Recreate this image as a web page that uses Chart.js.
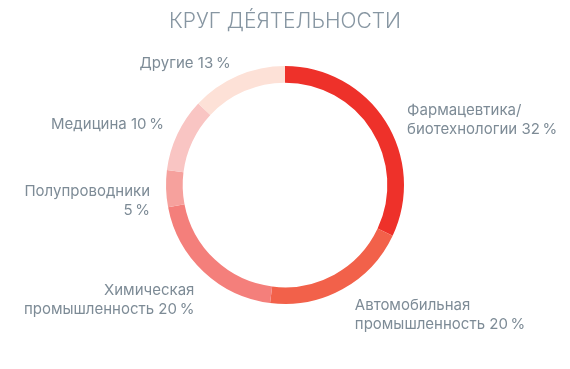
<!DOCTYPE html>
<html>
<head>
<meta charset="utf-8">
<script src="https://cdn.jsdelivr.net/npm/chart.js@4.4.0/dist/chart.umd.min.js"></script>
<style>
    html, body { margin: 0; padding: 0; background: #ffffff; }
    #wrap { width: 570px; height: 369px; }
</style>
</head>
<body>
<div id="wrap"><canvas id="krugChart"></canvas></div>
<script>
// данные
const categories = [
    ['Фармацевтика/', 'биотехнологии'],
    ['Автомобильная', 'промышленность'],
    ['Химическая', 'промышленность'],
    ['Полупроводники', ''],
    ['Медицина'],
    ['Другие']
];
const values = [32, 20, 20, 5, 10, 13];
const colors = ['#ee312a', '#f2614a', '#f47f7b', '#f6a19d', '#f9c5c3', '#fde1d7'];

const textColor = '#7d8b96';
// сдвиг подписей [dx, dy] относительно точки на продолжении сектора
const labelShift = [[-2, 8], [-1, -5], [10, 2], [12, 5], [12, -4], [4, 7]];

function labelLines(i) {
    const lines = categories[i].slice();
    const last = lines.length - 1;
    const pct = values[i] + '\u2009%';
    lines[last] = lines[last] ? lines[last] + ' ' + pct : pct;
    return lines;
}

// подписи снаружи кольца
const outerLabels = {
    id: 'outerLabels',
    afterDatasetsDraw(chart) {
        const ctx = chart.ctx;
        const meta = chart.getDatasetMeta(0);
        ctx.save();
        ctx.font = '15px Inter, "Noto Sans", sans-serif';
        ctx.fillStyle = textColor;
        ctx.textBaseline = 'middle';
        const lineH = 19;
        meta.data.forEach((arc, i) => {
            const mid = (arc.startAngle + arc.endAngle) / 2;
            const r = arc.outerRadius + 28;
            const x = arc.x + Math.cos(mid) * r + labelShift[i][0];
            const y = arc.y + Math.sin(mid) * r + 6 + labelShift[i][1];
            const lines = labelLines(i);
            ctx.textAlign = Math.cos(mid) >= 0 ? 'left' : 'right';
            const top = y - (lines.length - 1) * lineH / 2;
            lines.forEach((ln, k) => ctx.fillText(ln, x, top + k * lineH));
        });
        ctx.restore();
    }
};

new Chart(document.getElementById('krugChart'), {
    type: 'doughnut',
    data: {
        labels: categories.map(c => c.join(' ')),
        datasets: [{
            data: values,
            backgroundColor: colors,
            borderWidth: 0,
            cutout: '86%'
        }]
    },
    options: {
        responsive: true,
        maintainAspectRatio: false,
        animation: false,
        layout: { padding: { top: 0, bottom: 65, left: 150, right: 150 } },
        plugins: {
            legend: { display: false },
            tooltip: { enabled: false },
            title: {
                display: true,
                text: 'КРУГ ДЕ\u0301ЯТЕЛЬНОСТИ',
                color: '#8796a2',
                font: { family: 'Inter, "Noto Sans", sans-serif', size: 21, weight: '300', lineHeight: 1.2 },
                padding: { top: 9, bottom: 31.8 }
            }
        }
    },
    plugins: [outerLabels]
});
</script>
</body>
</html>
